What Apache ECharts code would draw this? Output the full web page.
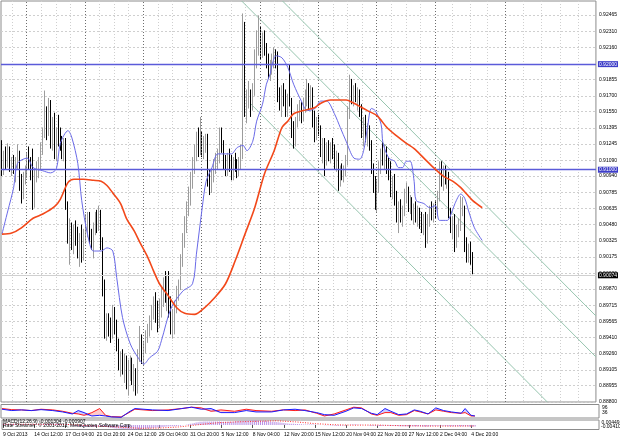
<!DOCTYPE html>
<html><head><meta charset="utf-8">
<script src="https://cdn.jsdelivr.net/npm/echarts@6/dist/echarts.min.js"></script>
<style>html,body{margin:0;padding:0;background:#fff}#c{width:620px;height:439px}</style>
</head><body><div id="c"></div>
<script>
// ---- USDCHF H4 bars ----
const opens=[0.9120,0.9100,0.9112,0.9105,0.9118,0.9103,0.9108,0.9100,0.9106,0.9110,
0.9086,0.9074,0.9094,0.9098,0.9110,0.9104,0.9116,0.9068,0.9094,0.9100,
0.9106,0.9120,0.9134,0.9150,0.9136,0.9158,0.9126,0.9144,0.9116,0.9134,
0.9128,0.9124,0.9118,0.9126,0.9066,0.9036,0.9040,0.9030,0.9044,0.9034,
0.9020,0.9036,0.9018,0.9040,0.9046,0.9052,0.9036,0.9030,0.9042,0.9054,
0.9046,0.9060,0.9030,0.8990,0.8946,0.8956,0.8950,0.8944,0.8962,0.8950,
0.8934,0.8914,0.8922,0.8912,0.8918,0.8904,0.8910,0.8916,0.8902,0.8908,
0.8892,0.8924,0.8940,0.8922,0.8932,0.8944,0.8950,0.8956,0.8966,0.8972,
0.8964,0.8958,0.8972,0.8984,0.8990,0.8980,0.8994,0.8966,0.8952,0.8958,
0.8970,0.8984,0.8990,0.9014,0.9032,0.9048,0.9064,0.9076,0.9090,0.9104,
0.9116,0.9128,0.9120,0.9130,0.9118,0.9126,0.9130,0.9090,0.9082,0.9096,
0.9104,0.9110,0.9114,0.9126,0.9124,0.9106,0.9100,0.9110,0.9104,0.9096,
0.9106,0.9102,0.9098,0.9108,0.9116,0.9236,0.9160,0.9168,0.9170,0.9162,
0.9176,0.9206,0.9222,0.9226,0.9212,0.9222,0.9214,0.9200,0.9192,0.9196,
0.9204,0.9210,0.9206,0.9168,0.9164,0.9172,0.9166,0.9158,0.9168,0.9164,
0.9138,0.9128,0.9146,0.9154,0.9158,0.9150,0.9160,0.9170,0.9176,0.9162,
0.9174,0.9146,0.9134,0.9144,0.9138,0.9118,0.9124,0.9110,0.9120,0.9114,
0.9122,0.9116,0.9106,0.9112,0.9090,0.9098,0.9094,0.9100,0.9108,0.9152,
0.9180,0.9170,0.9176,0.9168,0.9172,0.9156,0.9136,0.9146,0.9130,0.9138,
0.9124,0.9100,0.9084,0.9070,0.9084,0.9102,0.9114,0.9110,0.9118,0.9102,
0.9096,0.9080,0.9088,0.9072,0.9056,0.9064,0.9058,0.9060,0.9076,0.9080,
0.9066,0.9070,0.9058,0.9062,0.9054,0.9060,0.9050,0.9046,0.9054,0.9034,
0.9052,0.9060,0.9056,0.9064,0.9060,0.9074,0.9094,0.9090,0.9098,0.9092,
0.9096,0.9060,0.9046,0.9050,0.9030,0.9042,0.9048,0.9062,0.9064,0.9028,
0.9018,0.9024,0.9016];
const highs=[0.9128,0.9118,0.9122,0.9125,0.9122,0.9112,0.9114,0.9112,0.9124,0.9118,
0.9096,0.9098,0.9104,0.9116,0.9122,0.9112,0.9120,0.9100,0.9108,0.9112,
0.9126,0.9140,0.9175,0.9160,0.9168,0.9166,0.9150,0.9154,0.9140,0.9152,
0.9140,0.9132,0.9130,0.9130,0.9070,0.9054,0.9050,0.9048,0.9052,0.9046,
0.9040,0.9048,0.9044,0.9058,0.9060,0.9060,0.9044,0.9050,0.9060,0.9062,
0.9066,0.9062,0.9036,0.8996,0.8964,0.8964,0.8960,0.8972,0.8970,0.8958,
0.8940,0.8928,0.8930,0.8926,0.8924,0.8920,0.8924,0.8922,0.8916,0.8912,
0.8930,0.8952,0.8944,0.8938,0.8948,0.8954,0.8962,0.8972,0.8980,0.8984,
0.8976,0.8978,0.8990,0.8998,0.9004,0.9000,0.9004,0.8980,0.8968,0.8976,
0.8990,0.8996,0.9020,0.9040,0.9056,0.9070,0.9084,0.9098,0.9112,0.9124,
0.9136,0.9140,0.9150,0.9136,0.9132,0.9134,0.9134,0.9100,0.9100,0.9110,
0.9116,0.9120,0.9140,0.9140,0.9128,0.9114,0.9116,0.9120,0.9114,0.9112,
0.9116,0.9110,0.9112,0.9124,0.9248,0.9240,0.9176,0.9184,0.9176,0.9182,
0.9214,0.9232,0.9246,0.9236,0.9230,0.9232,0.9220,0.9210,0.9204,0.9210,
0.9216,0.9214,0.9212,0.9178,0.9180,0.9182,0.9176,0.9172,0.9200,0.9168,
0.9146,0.9150,0.9162,0.9166,0.9164,0.9168,0.9176,0.9186,0.9182,0.9180,
0.9178,0.9156,0.9150,0.9152,0.9142,0.9130,0.9130,0.9126,0.9128,0.9126,
0.9130,0.9124,0.9118,0.9116,0.9104,0.9106,0.9104,0.9114,0.9160,0.9190,
0.9186,0.9180,0.9182,0.9178,0.9176,0.9162,0.9150,0.9152,0.9144,0.9142,
0.9128,0.9106,0.9094,0.9090,0.9108,0.9120,0.9126,0.9124,0.9122,0.9112,
0.9108,0.9094,0.9096,0.9080,0.9070,0.9072,0.9066,0.9082,0.9088,0.9084,
0.9076,0.9074,0.9068,0.9070,0.9066,0.9064,0.9060,0.9058,0.9060,0.9058,
0.9066,0.9070,0.9068,0.9070,0.9080,0.9108,0.9108,0.9104,0.9104,0.9100,
0.9098,0.9064,0.9056,0.9058,0.9048,0.9054,0.9075,0.9074,0.9066,0.9036,
0.9030,0.9032,0.9022];
const lows=[0.9094,0.9095,0.9100,0.9102,0.9098,0.9094,0.9096,0.9088,0.9100,0.9080,
0.9068,0.9072,0.9086,0.9092,0.9100,0.9090,0.9062,0.9064,0.9088,0.9092,
0.9100,0.9114,0.9130,0.9128,0.9132,0.9120,0.9118,0.9110,0.9108,0.9122,
0.9118,0.9110,0.9108,0.9062,0.9030,0.9010,0.9024,0.9020,0.9028,0.9016,
0.9008,0.9012,0.9014,0.9030,0.9036,0.9030,0.9024,0.9016,0.9038,0.9040,
0.9042,0.9024,0.8980,0.8940,0.8938,0.8942,0.8936,0.8940,0.8944,0.8928,
0.8910,0.8904,0.8906,0.8898,0.8892,0.8886,0.8900,0.8896,0.8890,0.8886,
0.8888,0.8918,0.8916,0.8914,0.8926,0.8936,0.8942,0.8948,0.8958,0.8955,
0.8946,0.8950,0.8960,0.8970,0.8974,0.8966,0.8960,0.8944,0.8940,0.8944,
0.8964,0.8976,0.8986,0.9008,0.9026,0.9040,0.9056,0.9066,0.9082,0.9096,
0.9108,0.9112,0.9114,0.9112,0.9110,0.9116,0.9084,0.9076,0.9078,0.9088,
0.9096,0.9100,0.9106,0.9116,0.9100,0.9094,0.9094,0.9098,0.9090,0.9090,
0.9098,0.9092,0.9094,0.9100,0.9110,0.9150,0.9144,0.9158,0.9150,0.9156,
0.9170,0.9196,0.9208,0.9204,0.9206,0.9208,0.9196,0.9186,0.9184,0.9190,
0.9196,0.9196,0.9164,0.9156,0.9150,0.9160,0.9150,0.9150,0.9160,0.9130,
0.9120,0.9122,0.9140,0.9146,0.9144,0.9146,0.9154,0.9160,0.9156,0.9158,
0.9140,0.9126,0.9128,0.9132,0.9112,0.9106,0.9094,0.9104,0.9108,0.9106,
0.9110,0.9100,0.9098,0.9080,0.9084,0.9090,0.9088,0.9094,0.9104,0.9148,
0.9162,0.9160,0.9164,0.9156,0.9150,0.9130,0.9122,0.9126,0.9122,0.9118,
0.9096,0.9078,0.9062,0.9060,0.9078,0.9096,0.9104,0.9100,0.9096,0.9090,
0.9074,0.9072,0.9066,0.9050,0.9040,0.9050,0.9046,0.9056,0.9068,0.9060,
0.9058,0.9052,0.9048,0.9050,0.9046,0.9044,0.9040,0.9038,0.9026,0.9030,
0.9046,0.9052,0.9050,0.9054,0.9056,0.9070,0.9084,0.9080,0.9086,0.9082,
0.9054,0.9040,0.9034,0.9022,0.9026,0.9036,0.9042,0.9056,0.9022,0.9012,
0.9012,0.9010,0.9001];
const closes=[0.9100,0.9112,0.9105,0.9118,0.9103,0.9108,0.9100,0.9106,0.9110,0.9086,
0.9074,0.9094,0.9098,0.9110,0.9104,0.9096,0.9068,0.9094,0.9100,0.9106,
0.9120,0.9134,0.9150,0.9136,0.9158,0.9126,0.9144,0.9116,0.9134,0.9128,
0.9124,0.9118,0.9126,0.9066,0.9036,0.9040,0.9030,0.9044,0.9034,0.9020,
0.9036,0.9018,0.9040,0.9046,0.9052,0.9036,0.9030,0.9042,0.9054,0.9046,
0.9060,0.9030,0.8990,0.8946,0.8956,0.8950,0.8944,0.8962,0.8950,0.8934,
0.8914,0.8922,0.8912,0.8918,0.8904,0.8910,0.8916,0.8902,0.8908,0.8892,
0.8924,0.8940,0.8922,0.8932,0.8944,0.8950,0.8956,0.8966,0.8972,0.8964,
0.8958,0.8972,0.8984,0.8990,0.8980,0.8994,0.8966,0.8952,0.8958,0.8970,
0.8984,0.8990,0.9014,0.9032,0.9048,0.9064,0.9076,0.9090,0.9104,0.9116,
0.9128,0.9120,0.9130,0.9118,0.9126,0.9130,0.9090,0.9082,0.9096,0.9104,
0.9110,0.9114,0.9126,0.9124,0.9106,0.9100,0.9110,0.9104,0.9096,0.9106,
0.9102,0.9098,0.9108,0.9116,0.9236,0.9160,0.9168,0.9170,0.9162,0.9176,
0.9206,0.9222,0.9226,0.9212,0.9222,0.9214,0.9200,0.9192,0.9196,0.9204,
0.9210,0.9206,0.9168,0.9164,0.9172,0.9166,0.9158,0.9168,0.9164,0.9138,
0.9128,0.9146,0.9154,0.9158,0.9150,0.9160,0.9170,0.9176,0.9162,0.9174,
0.9146,0.9134,0.9144,0.9138,0.9118,0.9124,0.9110,0.9120,0.9114,0.9122,
0.9116,0.9106,0.9112,0.9090,0.9098,0.9094,0.9100,0.9108,0.9152,0.9180,
0.9170,0.9176,0.9168,0.9172,0.9156,0.9136,0.9146,0.9130,0.9138,0.9124,
0.9100,0.9084,0.9070,0.9084,0.9102,0.9114,0.9110,0.9118,0.9102,0.9096,
0.9080,0.9088,0.9072,0.9056,0.9064,0.9058,0.9060,0.9076,0.9080,0.9066,
0.9070,0.9058,0.9062,0.9054,0.9060,0.9050,0.9046,0.9054,0.9034,0.9052,
0.9060,0.9056,0.9064,0.9060,0.9074,0.9094,0.9090,0.9098,0.9092,0.9096,
0.9060,0.9046,0.9050,0.9030,0.9042,0.9048,0.9062,0.9064,0.9028,0.9018,
0.9024,0.9016,0.90074];

// ---- moving averages [bar, price] ----
const maFast=[[0,0.9039],[3,0.9061],[6,0.9083],[8,0.9106],[13,0.9111],[16,0.9102],[21,0.9099],[25,0.9097],[28,0.9101],[30,0.9125],[34,0.9137],[36,0.9130],[39,0.9106],[41,0.9071],[44,0.9039],[47,0.9023],[51,0.9023],[54,0.9026],[57,0.9023],[59,0.8998],[62,0.8960],[66,0.8935],[70,0.8922],[73,0.8916],[76,0.8922],[80,0.8928],[82,0.8938],[87,0.8969],[93,0.8985],[98,0.8992],[100,0.9020],[103,0.9064],[105,0.9089],[108,0.9102],[111,0.9115],[115,0.9115],[118,0.9115],[121,0.9121],[124,0.9123],[126,0.9118],[129,0.9127],[131,0.9146],[134,0.9162],[136,0.9181],[138,0.9191],[139,0.9200],[141,0.9208],[144,0.9206],[147,0.9197],[150,0.9181],[154,0.9165],[157,0.9156],[161,0.9158],[164,0.9165],[167,0.9165],[171,0.9153],[174,0.9140],[177,0.9127],[181,0.9111],[184,0.9110],[186,0.9118],[188,0.9140],[190,0.9158],[192,0.9156],[195,0.9143],[196,0.9125],[199,0.9111],[202,0.9108],[204,0.9102],[206,0.9102],[208,0.9108],[210,0.9108],[212,0.9089],[213,0.9071],[217,0.9068],[220,0.9064],[223,0.9066],[225,0.9052],[229,0.9052],[231,0.9058],[233,0.9068],[236,0.9077],[238,0.9073],[240,0.9061],[243,0.9045],[247,0.9033]];
const maSlow=[[0,0.9039],[5,0.9040],[10,0.9045],[16,0.9054],[21,0.9058],[27,0.9065],[30,0.9072],[34,0.9088],[37,0.9091],[42,0.9091],[47,0.9090],[51,0.9089],[54,0.9085],[57,0.9078],[61,0.9068],[64,0.9054],[68,0.9042],[71,0.9031],[75,0.9017],[78,0.9004],[81,0.8992],[85,0.8982],[90,0.8969],[94,0.8964],[99,0.8963],[104,0.8969],[109,0.8978],[115,0.8992],[120,0.9014],[125,0.9039],[130,0.9064],[135,0.9096],[140,0.9118],[144,0.9140],[147,0.9146],[150,0.9153],[155,0.9156],[161,0.9159],[164,0.9163],[169,0.9166],[174,0.9166],[177,0.9166],[181,0.9163],[185,0.9159],[188,0.9156],[193,0.9151],[198,0.9140],[203,0.9132],[208,0.9125],[212,0.9120],[217,0.9111],[222,0.9102],[227,0.9094],[232,0.9089],[236,0.9083],[239,0.9077],[242,0.9071],[247,0.9064]];

// ---- channel lines [bar, price] ----
const channelUpper=[[144.3,0.92598],[305.5,0.89615]];
const channelMiddle=[[123.3,0.92598],[305.5,0.89227]];
const channelLower=[[128.0,0.91623],[280.5,0.88800]];
const levelLines=[0.92000,0.91000];
const bidPrice=0.90074;

// ---- axis labels ----
const yTickLabels=['0.92465','0.92310','0.92160','0.91855','0.91700','0.91550','0.91395','0.91245','0.91090','0.90940','0.90785','0.90635','0.90480','0.90325','0.90175','0.90020','0.89870','0.89715','0.89565','0.89410','0.89260','0.89105','0.88955','0.88800'];
const xTickLabels=['9 Oct 2013','14 Oct 12:00','17 Oct 04:00','21 Oct 20:00','24 Oct 12:00','29 Oct 04:00','31 Oct 20:00','5 Nov 12:00','8 Nov 04:00','12 Nov 20:00','15 Nov 12:00','20 Nov 04:00','22 Nov 20:00','27 Nov 12:00','2 Dec 04:00','4 Dec 20:00'];
const weekSeparators=[12.7,42.7,72.7,102.7,132.7,162.7,192.7,222.7,258.8];
const futureGrid=[231.7,240.7,249.7,268.2,277.6,287.0,296.4];

// ---- oscillator panel ----
const oscBars=[0,5,10,15,20,26,31,36,39,42,46,50,53,56,61,65,68,77,85,92,97,102,107,112,119,125,130,138,144,150,155,161,165,170,176,180,184,189,192,196,199,203,207,211,214,218,222,226,230,235,237,240,242];
const oscRed=[70,62,60,55,65,60,50,35,30,20,40,70,20,10,8,40,65,55,60,70,80,75,50,60,50,65,55,50,60,55,60,35,15,30,60,80,75,30,20,40,40,20,25,55,45,30,60,50,40,35,40,15,15];
const oscBlue=[65,55,60,55,62,55,45,30,55,40,15,20,15,8,5,45,70,60,55,70,80,65,70,40,40,55,45,45,60,65,55,40,25,20,50,75,70,35,25,70,50,25,30,60,50,30,75,55,45,35,70,20,15];

// ---- MACD panel ----
const macdMain=[0.0006,0.0007,0.0007,0.0008,0.0008,0.0008,0.0007,0.0006,0.0006,0.0005,0.0004,0.0004,0.0004,0.0004,0.0005,0.0005,0.0004,0.0004,0.0004,0.0005,0.0006,0.0007,0.0009,0.0009,0.0010,0.0010,0.0010,0.0010,0.0010,0.0009,0.0009,0.0008,0.0007,
0.0005,0.0001,-0.0003,-0.0006,-0.0009,-0.0011,-0.0013,-0.0015,-0.0016,-0.0017,-0.0017,-0.0017,-0.0017,-0.0017,-0.0016,-0.0016,-0.0015,-0.0015,-0.0015,-0.0016,-0.0019,-0.0023,-0.0026,-0.0028,-0.0030,
-0.0031,-0.0032,-0.0034,-0.0036,-0.0037,-0.0038,-0.0039,-0.0040,-0.0040,-0.0040,-0.0040,-0.0040,-0.0039,-0.0038,-0.0036,-0.0034,-0.0033,-0.0031,-0.0029,-0.0027,-0.0025,-0.0024,-0.0022,-0.0020,-0.0018,-0.0016,-0.0014,-0.0013,-0.0012,-0.0012,-0.0011,-0.0010,-0.0008,-0.0006,-0.0003,0.0000,0.0003,
0.0006,0.0010,0.0014,0.0018,0.0022,0.0025,0.0028,0.0030,0.0031,0.0032,0.0032,0.0032,0.0032,0.0032,0.0031,0.0031,0.0031,0.0030,0.0030,0.0030,0.0030,0.0029,0.0029,0.0030,0.0033,0.0035,0.0036,0.0037,0.0038,0.0039,0.0040,0.0041,0.0042,0.0042,0.0042,0.0042,0.0041,0.0040,0.0039,0.0038,0.0036,0.0034,0.0032,0.0030,0.0028,0.0026,0.0024,0.0022,0.0020,0.0018,0.0016,0.0014,0.0012,0.0011,0.0010,0.0009,
0.0008,0.0007,0.0006,0.0005,0.0005,0.0005,0.0005,0.0005,0.0004,0.0003,0.0002,0.0001,0.0000,-0.0001,-0.0002,-0.0003,-0.0003,-0.0004,-0.0004,-0.0005,-0.0006,-0.0006,-0.0006,-0.0005,-0.0004,-0.0002,0.0000,0.0002,0.0004,0.0004,0.0004,0.0003,0.0002,0.0001,0.0000,-0.0001,-0.0003,-0.0005,-0.0006,-0.0007,-0.0008,-0.0009,-0.0009,-0.0008,-0.0008,-0.0007,-0.0007,-0.0007,-0.0007,-0.0008,-0.0009,-0.0010,-0.0011,-0.0011,-0.0011,-0.0012,-0.0012,-0.0012,-0.0012,-0.0011,-0.0011,-0.0011,-0.0012,-0.0012,-0.0013,-0.0013,-0.0013,-0.0013,-0.0012,-0.0010,-0.0008,-0.0007,-0.0006,-0.0006,-0.0007,-0.0008,-0.0010,-0.0012,-0.0012,-0.0012,-0.0011,-0.0011,-0.0012,-0.0012,-0.0012,-0.0011,-0.0012,-0.0012,-0.0013,-0.0013,-0.0013,-0.0013];
const macdSignal=[[0,0.0006],[20,0.0006],[35,0.0004],[45,-0.0008],[55,-0.0015],[60,-0.0020],[70,-0.0030],[80,-0.0028],[90,-0.0018],[100,0.0002],[110,0.0020],[120,0.0028],[130,0.0033],[140,0.0038],[150,0.0028],[160,0.0012],[170,0.0002],[180,-0.0002],[190,0.0000],[200,-0.0005],[210,-0.0008],[220,-0.0010],[230,-0.0010],[242,-0.0009]];

const N=306;
const cats=Array.from({length:N},(_,i)=>i);
const candleData=opens.map((o,i)=>[o,closes[i],lows[i],highs[i]]);
const yTickVals=yTickLabels.map(Number);
const lightGrid=[];
for(let v=5.2;v<223;v+=7.5){ if(!weekSeparators.some(w=>Math.abs(w-v)<0.5)) lightGrid.push(+v.toFixed(1)); }
futureGrid.forEach(v=>lightGrid.push(v));
const oscBase=oscRed.map((r,i)=>[oscBars[i],Math.min(r,oscBlue[i])]);
const oscRedBand=oscRed.map((r,i)=>[oscBars[i],Math.max(r-oscBlue[i],0)]);
const oscBlueBand=oscBlue.map((b,i)=>[oscBars[i],Math.max(b-oscRed[i],0)]);
const lblFn=i=>i%16===0 && i/16<xTickLabels.length;
const FF='Liberation Sans';

const chart=echarts.init(document.getElementById('c'),null,{renderer:'canvas'});
chart.setOption({
  animation:false,
  backgroundColor:'#ffffff',
  textStyle:{fontFamily:FF},
  grid:[
    {left:1,top:1,width:598,height:401,show:true,borderColor:'#8c8c8c',borderWidth:1},
    {left:1,top:404.5,width:598,height:13.5,show:true,borderColor:'#8c8c8c',borderWidth:1},
    {left:1,top:420,width:598,height:9.5,show:true,borderColor:'#8c8c8c',borderWidth:1}
  ],
  xAxis:[
    {type:'category',gridIndex:0,data:cats,boundaryGap:true,axisLine:{show:false},axisTick:{show:false},axisLabel:{show:false},splitLine:{show:false}},
    {type:'value',gridIndex:0,position:'top',min:-0.5,max:305.5,axisLine:{show:false},axisLabel:{show:false},
      axisTick:{show:false,customValues:lightGrid},splitLine:{show:true,lineStyle:{color:'#cfcfcf',width:1,type:[1,2]}}},
    {type:'category',gridIndex:1,data:cats,show:false},
    {type:'category',gridIndex:2,data:cats,boundaryGap:true,axisLine:{show:false},
      axisTick:{show:true,interval:lblFn,alignWithLabel:true,length:3,lineStyle:{color:'#555'}},
      axisLabel:{show:true,interval:lblFn,align:'left',margin:3,fontSize:5,color:'#000',fontFamily:FF,
        formatter:(v,idx)=>xTickLabels[Math.round(Number(v)/16)]||''},splitLine:{show:false}}
  ],
  yAxis:[
    {type:'value',gridIndex:0,position:'right',min:0.888,max:0.92598,scale:true,axisLine:{show:false},
      axisTick:{show:false,customValues:yTickVals},
      axisLabel:{customValues:yTickVals,formatter:v=>Number(v).toFixed(5),fontSize:5,margin:3,color:'#000',fontFamily:FF},
      splitLine:{show:true,lineStyle:{color:'#cfcfcf',width:1,type:[2,2]}}},
    {type:'value',gridIndex:1,min:0,max:100,show:false},
    {type:'value',gridIndex:2,min:-0.0041,max:0.00449,show:false}
  ],
  series:[
    {type:'line',xAxisIndex:1,yAxisIndex:0,data:channelUpper,symbol:'none',lineStyle:{color:'#96c4ae',width:1},silent:true,z:3,
      markLine:{silent:true,symbol:'none',animation:false,label:{show:false},
        lineStyle:{color:'#6e6e6e',width:1,type:[1,2]},data:weekSeparators.map(v=>({xAxis:v}))}},
    {type:'line',xAxisIndex:1,yAxisIndex:0,data:channelMiddle,symbol:'none',lineStyle:{color:'#96c4ae',width:1},silent:true,z:3},
    {type:'line',xAxisIndex:1,yAxisIndex:0,data:channelLower,symbol:'none',lineStyle:{color:'#96c4ae',width:1},silent:true,z:3},
    {type:'candlestick',xAxisIndex:0,yAxisIndex:0,data:candleData,barWidth:1,z:4,
      itemStyle:{color:'#9c9c9c',color0:'#000000',borderColor:'#9c9c9c',borderColor0:'#000000',borderWidth:1},
      markLine:{silent:true,symbol:'none',animation:false,
        data:[
          ...levelLines.map(v=>({yAxis:v,lineStyle:{color:'#5b5bd9',width:1.3,type:'solid'},
            label:{show:true,position:'end',distance:2,formatter:v.toFixed(5),color:'#fff',backgroundColor:'#3d3dc8',padding:[1,1,0,1],fontSize:5,fontFamily:FF}})),
          {yAxis:bidPrice,lineStyle:{color:'#d0d0d0',width:1,type:'solid'},
            label:{show:true,position:'end',distance:2,formatter:bidPrice.toFixed(5),color:'#fff',backgroundColor:'#000',padding:[1,1,0,1],fontSize:5,fontFamily:FF}}
        ]}},
    {type:'line',xAxisIndex:0,yAxisIndex:0,data:maFast,symbol:'none',smooth:0.3,lineStyle:{color:'#6a6ae8',width:1},z:5},
    {type:'line',xAxisIndex:0,yAxisIndex:0,data:maSlow,symbol:'none',smooth:0.3,lineStyle:{color:'#f2481a',width:1.6},z:5},
    // oscillator panel
    {type:'line',xAxisIndex:2,yAxisIndex:1,stack:'r',data:oscBase,symbol:'none',lineStyle:{opacity:0}},
    {type:'line',xAxisIndex:2,yAxisIndex:1,stack:'r',data:oscRedBand,symbol:'none',lineStyle:{opacity:0},areaStyle:{color:'rgba(255,90,90,0.45)'}},
    {type:'line',xAxisIndex:2,yAxisIndex:1,stack:'b',data:oscBase,symbol:'none',lineStyle:{opacity:0}},
    {type:'line',xAxisIndex:2,yAxisIndex:1,stack:'b',data:oscBlueBand,symbol:'none',lineStyle:{opacity:0},areaStyle:{color:'rgba(90,90,255,0.45)'}},
    {type:'line',xAxisIndex:2,yAxisIndex:1,data:oscRed.map((v,i)=>[oscBars[i],v]),symbol:'none',lineStyle:{color:'#ff1a1a',width:1}},
    {type:'line',xAxisIndex:2,yAxisIndex:1,data:oscBlue.map((v,i)=>[oscBars[i],v]),symbol:'none',lineStyle:{color:'#1a1aff',width:1}},
    // MACD panel
    {type:'bar',xAxisIndex:3,yAxisIndex:2,data:macdMain,barWidth:1,itemStyle:{color:'#b88fe4'}},
    {type:'line',xAxisIndex:3,yAxisIndex:2,data:macdSignal,symbol:'none',lineStyle:{color:'#ff3030',width:1,type:[1,1.5]}}
  ],
  graphic:[
    {type:'text',left:3,top:419.5,z:100,style:{text:'MACD(12,26,9) -0.001304 -0.000907',font:'5px "Liberation Sans"',fill:'#000'}},
    {type:'text',left:3,top:423.5,z:100,style:{text:'Rate Streamer: © 2001-2013, MetaQuotes Software Corp.',font:'5px "Liberation Sans"',fill:'#000'}},
    {type:'text',left:602,top:405,z:100,style:{text:'96',font:'5px "Liberation Sans"',fill:'#000'}},
    {type:'text',left:602,top:410.5,z:100,style:{text:'36',font:'5px "Liberation Sans"',fill:'#000'}},
    {type:'text',left:601.5,top:420,z:100,style:{text:'0.00449',font:'5px "Liberation Sans"',fill:'#000'}},
    {type:'text',left:601,top:424.5,z:100,style:{text:'-0.00410',font:'5px "Liberation Sans"',fill:'#000'}}
  ]
});
</script>
</body></html>
